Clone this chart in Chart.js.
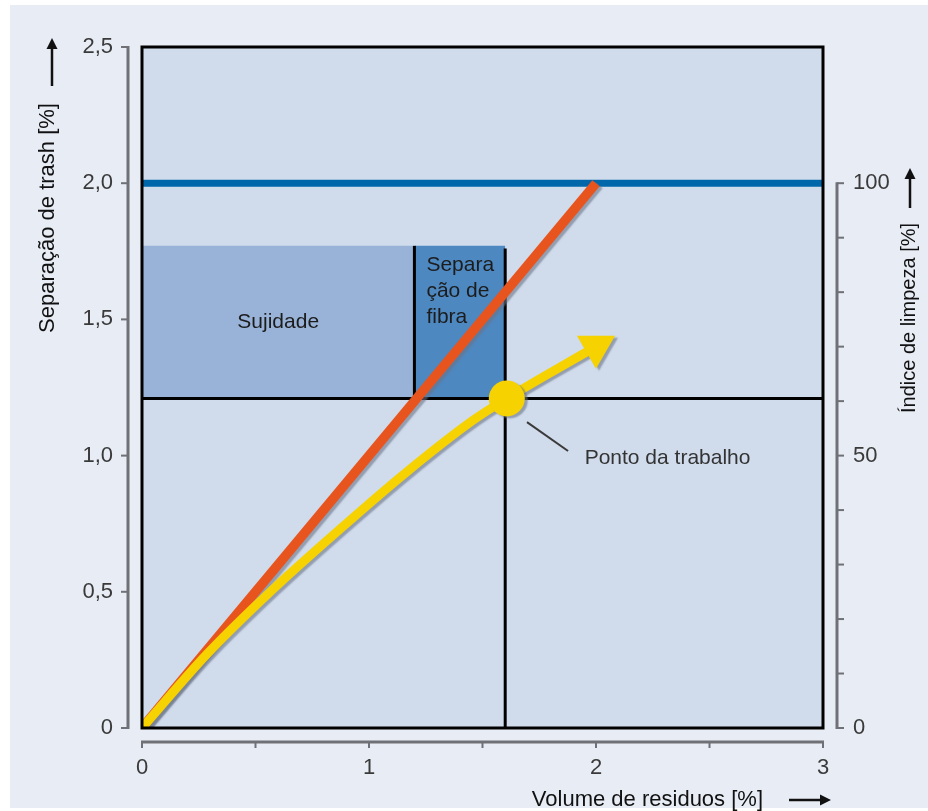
<!DOCTYPE html>
<html>
<head>
<meta charset="utf-8">
<script src="https://cdn.jsdelivr.net/npm/chart.js@4.4.1/dist/chart.umd.min.js"></script>
<style>
  html, body { margin: 0; padding: 0; background: #ffffff; }
  #wrap { width: 928px; height: 811px; }
</style>
</head>
<body>
<div id="wrap"><canvas id="chart"></canvas></div>
<script>
// tick labels
const xTickLabels = ["0", "1", "2", "3"];
const yTickLabels = ["0", "0,5", "1,0", "1,5", "2,0", "2,5"];
const y2TickLabels = ["0", "50", "100"];

// axis titles
const xTitle = "Volume de residuos [%]";
const yTitle = "Separação de trash [%]";
const y2Title = "Índice de limpeza [%]";

// red line (trash separation)
const orangeX = [0, 2.0];
const orangeY = [0, 2.0];

// yellow curve (cleaning index), ends with the arrow head
const yellowX = [0, 0.285, 0.578, 0.872, 1.166, 1.459, 1.607, 1.8, 2.0];
const yellowY = [0, 0.27, 0.51, 0.73, 0.94, 1.13, 1.21, 1.305, 1.40];

// working point and its leader line
const workPoint = [1.607, 1.21];
const leaderX = [1.696, 1.877];
const leaderY = [1.123, 1.017];
const workLabel = "Ponto da trabalho";
const workLabelAt = [1.95, 0.99];

// zones
const zoneLabels = ["Sujidade", "Separação de fibra"];
const zoneLeft = [0, 1.2];
const zoneRight = [1.2, 1.6];
const zoneBottom = 1.21;
const zoneTop = 1.77;
const limitLevel = 2.0;

const yellow = "#f6d200";
const orange = "#e8541e";
const font = "'Liberation Sans', Arial, sans-serif";

const pts = (xs, ys) => xs.map((x, i) => ({ x: x, y: ys[i] }));
const lastYellow = yellowX.length - 1;

const chartJs = document.querySelector("#chart");

const decor = {
  id: "decor",
  beforeDraw(chart) {
    const { ctx, chartArea: a } = chart;
    ctx.save();
    ctx.fillStyle = "#ffffff";
    ctx.fillRect(0, 0, chart.width, chart.height);
    ctx.fillStyle = "#e8ecf5";
    ctx.fillRect(10, 5, chart.width - 10, chart.height - 8);
    ctx.fillStyle = "#d0dcec";
    ctx.fillRect(a.left, a.top, a.right - a.left, a.bottom - a.top);
    ctx.restore();
  },
  beforeDatasetDraw(chart, args) {
    const ds = chart.data.datasets[args.index];
    if (ds.shadow) {
      const ctx = chart.ctx;
      ctx.save();
      ctx.shadowColor = "rgba(105,115,135,0.6)";
      ctx.shadowOffsetX = 3;
      ctx.shadowOffsetY = 2;
      ctx.shadowBlur = 1.5;
    }
  },
  afterDatasetDraw(chart, args) {
    const ds = chart.data.datasets[args.index];
    if (ds.shadow) chart.ctx.restore();
  },
  afterDatasetsDraw(chart) {
    const { ctx, chartArea: a, scales } = chart;
    const sx = scales.x, sy = scales.y, sy2 = scales.y2;
    ctx.save();

    // frame
    ctx.strokeStyle = "#000";
    ctx.lineWidth = 3;
    ctx.strokeRect(a.left, a.top, a.right - a.left, a.bottom - a.top);

    // detached grey axes
    ctx.strokeStyle = "#6f7177";
    ctx.lineWidth = 3;
    ctx.lineCap = "butt";
    const lx = a.left - 14;
    ctx.beginPath();
    ctx.moveTo(lx, sy.getPixelForValue(0) + 1);
    ctx.lineTo(lx, sy.getPixelForValue(2.5) - 1);
    ctx.stroke();
    ctx.lineWidth = 2;
    for (let v = 0; v <= 2.5; v += 0.5) {
      const p = sy.getPixelForValue(v);
      ctx.beginPath(); ctx.moveTo(lx - 7, p); ctx.lineTo(lx, p); ctx.stroke();
    }
    const by = a.bottom + 14;
    ctx.lineWidth = 3;
    ctx.beginPath();
    ctx.moveTo(sx.getPixelForValue(0) - 1, by);
    ctx.lineTo(sx.getPixelForValue(3) + 1, by);
    ctx.stroke();
    ctx.lineWidth = 2;
    for (let v = 0; v <= 3; v += 0.5) {
      const p = sx.getPixelForValue(v);
      ctx.beginPath(); ctx.moveTo(p, by); ctx.lineTo(p, by + 6); ctx.stroke();
    }
    const rx = a.right + 14;
    ctx.lineWidth = 3;
    ctx.beginPath();
    ctx.moveTo(rx, sy2.getPixelForValue(0) + 1);
    ctx.lineTo(rx, sy2.getPixelForValue(100) - 1);
    ctx.stroke();
    ctx.lineWidth = 2;
    for (let v = 0; v <= 100; v += 10) {
      const p = sy2.getPixelForValue(v);
      ctx.beginPath(); ctx.moveTo(rx, p); ctx.lineTo(rx + 7, p); ctx.stroke();
    }

    // zone texts
    ctx.fillStyle = "#1c1c1c";
    ctx.font = "21px " + font;
    ctx.textBaseline = "middle";
    ctx.textAlign = "center";
    ctx.fillText(zoneLabels[0], sx.getPixelForValue((zoneLeft[0] + zoneRight[0]) / 2), sy.getPixelForValue(1.49));
    ctx.textAlign = "left";
    const fx = sx.getPixelForValue(zoneLeft[1]) + 12;
    const fy = sy.getPixelForValue(zoneTop) + 19;
    ["Separa", "ção de", "fibra"].forEach((t, i) => ctx.fillText(t, fx, fy + i * 26));

    ctx.fillStyle = "#333";
    ctx.fillText(workLabel, sx.getPixelForValue(workLabelAt[0]), sy.getPixelForValue(workLabelAt[1]));
    ctx.restore();
  },
  afterDraw(chart) {
    const { ctx, chartArea: a } = chart;
    ctx.save();
    ctx.fillStyle = "#111";
    ctx.strokeStyle = "#111";
    ctx.textBaseline = "middle";

    ctx.font = "22px " + font;
    ctx.textAlign = "right";
    ctx.fillText(xTitle, a.right - 60, 800);
    arrow(ctx, a.right - 34, 800, a.right + 8, 800);

    ctx.save();
    ctx.translate(48, 218);
    ctx.rotate(-Math.PI / 2);
    ctx.textAlign = "center";
    ctx.fillText(yTitle, 0, 0);
    ctx.restore();
    arrow(ctx, 52, 86, 52, 38);

    ctx.save();
    ctx.font = "20px " + font;
    ctx.translate(909, 318);
    ctx.rotate(-Math.PI / 2);
    ctx.textAlign = "center";
    ctx.fillText(y2Title, 0, 0);
    ctx.restore();
    arrow(ctx, 910, 208, 910, 168);
    ctx.restore();
  },
};

function arrow(ctx, x1, y1, x2, y2) {
  const ang = Math.atan2(y2 - y1, x2 - x1);
  const hl = 11, hw = 5.5;
  ctx.lineWidth = 2.5;
  ctx.beginPath();
  ctx.moveTo(x1, y1);
  ctx.lineTo(x2 - Math.cos(ang) * hl, y2 - Math.sin(ang) * hl);
  ctx.stroke();
  ctx.beginPath();
  ctx.moveTo(x2, y2);
  ctx.lineTo(x2 - Math.cos(ang) * hl - Math.sin(ang) * hw, y2 - Math.sin(ang) * hl + Math.cos(ang) * hw);
  ctx.lineTo(x2 - Math.cos(ang) * hl + Math.sin(ang) * hw, y2 - Math.sin(ang) * hl - Math.cos(ang) * hw);
  ctx.closePath();
  ctx.fill();
}

const tickFont = { family: font, size: 22 };

// datasets listed top-most first
const data = {
  datasets: [
    {
      label: "Ponto de trabalho",
      data: [{ x: workPoint[0], y: workPoint[1] }],
      showLine: false,
      pointRadius: 18,
      pointBackgroundColor: yellow,
      pointBorderWidth: 0,
      shadow: true,
    },
    {
      label: "leader",
      data: pts(leaderX, leaderY),
      borderColor: "#3a3a3a",
      borderWidth: 2,
      pointRadius: 0,
    },
    {
      label: "Índice de limpeza",
      data: pts(yellowX, yellowY),
      borderColor: yellow,
      borderWidth: 9,
      cubicInterpolationMode: "monotone",
      borderJoinStyle: "round",
      pointStyle: "triangle",
      pointRadius: (c) => (c.dataIndex === lastYellow ? 22 : 0),
      rotation: 60,
      pointBackgroundColor: yellow,
      pointBorderWidth: 0,
      shadow: true,
    },
    {
      label: "Separação de trash",
      data: pts(orangeX, orangeY),
      borderColor: orange,
      borderWidth: 9.5,
      pointRadius: 0,
      shadow: true,
    },
    {
      label: "limit",
      data: [{ x: 0, y: limitLevel }, { x: 3, y: limitLevel }],
      borderColor: "#0068aa",
      borderWidth: 7,
      pointRadius: 0,
    },
    {
      label: "h",
      data: [{ x: 0, y: zoneBottom }, { x: 3, y: zoneBottom }],
      borderColor: "#000",
      borderWidth: 3,
      pointRadius: 0,
    },
    {
      label: "v1",
      data: [{ x: zoneLeft[1], y: zoneBottom }, { x: zoneLeft[1], y: zoneTop }],
      borderColor: "#000",
      borderWidth: 3,
      pointRadius: 0,
    },
    {
      label: "v2",
      data: [{ x: zoneRight[1], y: 0 }, { x: zoneRight[1], y: zoneTop - 0.01 }],
      borderColor: "#000",
      borderWidth: 3,
      pointRadius: 0,
    },
    {
      label: zoneLabels[1],
      data: [{ x: zoneLeft[1], y: zoneTop }, { x: zoneRight[1], y: zoneTop }],
      borderColor: "transparent",
      borderWidth: 0,
      pointRadius: 0,
      backgroundColor: "#4e88c1",
      fill: { value: zoneBottom },
    },
    {
      label: zoneLabels[0],
      data: [{ x: zoneLeft[0], y: zoneTop }, { x: zoneRight[0], y: zoneTop }],
      borderColor: "transparent",
      borderWidth: 0,
      pointRadius: 0,
      backgroundColor: "#98b3d7",
      fill: { value: zoneBottom },
    },
  ],
};

const config = {
  type: "scatter",
  data: data,
  options: {
    responsive: true,
    maintainAspectRatio: false,
    animation: false,
    showLine: true,
    layout: { padding: { top: 47, left: 0, right: 0, bottom: 0 } },
    plugins: {
      legend: { display: false },
      tooltip: { enabled: false },
    },
    scales: {
      x: {
        type: "linear",
        min: 0,
        max: 3,
        grid: { display: false, drawTicks: false },
        border: { display: false },
        ticks: {
          stepSize: 1,
          padding: 27,
          color: "#3a3a3a",
          font: tickFont,
          callback: (v, i) => xTickLabels[i] ?? "",
        },
        afterFit: (s) => { s.height = 83; },
      },
      y: {
        type: "linear",
        position: "left",
        min: 0,
        max: 2.5,
        grid: { display: false, drawTicks: false },
        border: { display: false },
        ticks: {
          stepSize: 0.5,
          padding: 29,
          color: "#3a3a3a",
          font: tickFont,
          callback: (v, i) => yTickLabels[i] ?? "",
        },
        afterFit: (s) => { s.width = 142; },
      },
      y2: {
        type: "linear",
        position: "right",
        min: 0,
        max: 125,
        grid: { display: false, drawTicks: false },
        border: { display: false },
        ticks: {
          stepSize: 50,
          includeBounds: false,
          padding: 30,
          color: "#3a3a3a",
          font: tickFont,
          callback: (v, i) => (v <= 100 ? y2TickLabels[i] : ""),
        },
        afterFit: (s) => { s.width = 105; },
      },
    },
  },
  plugins: [decor],
};

let mychart = new Chart(chartJs, config);
</script>
</body>
</html>
